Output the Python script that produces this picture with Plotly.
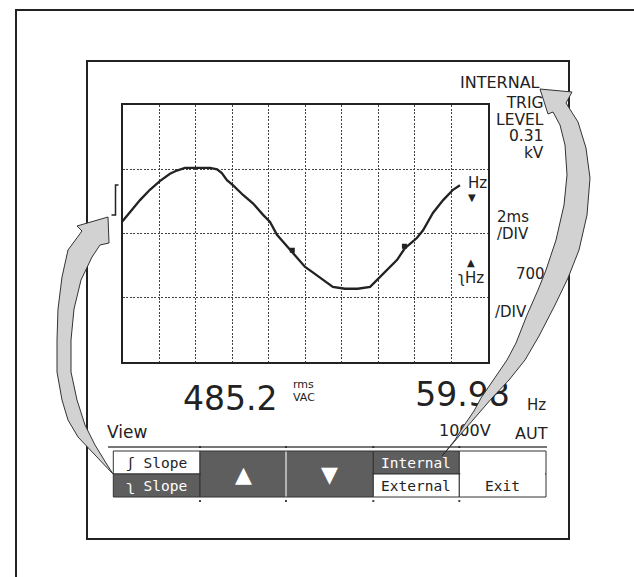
import plotly.graph_objects as go

W, H = 634, 577

# ---------------- data ----------------
# waveform, in grid divisions (x: 0..10, y: 0..4)
wave_x = [0.00, 0.21, 0.48, 0.75, 1.03, 1.30, 1.49, 1.71, 2.04, 2.40, 2.59, 2.72, 2.86,
          3.03, 3.30, 3.57, 3.85, 4.04, 4.23, 4.40, 4.59, 4.78, 5.00, 5.22, 5.49, 5.76,
          6.09, 6.44, 6.78, 6.97, 7.24, 7.52, 7.73, 8.06, 8.23, 8.50, 8.78, 9.05, 9.24]
wave_y = [2.19, 2.33, 2.52, 2.68, 2.82, 2.93, 2.98, 3.02, 3.02, 3.02, 3.00, 2.94, 2.83,
          2.75, 2.60, 2.47, 2.29, 2.18, 1.98, 1.87, 1.76, 1.63, 1.48, 1.39, 1.28, 1.17,
          1.14, 1.14, 1.17, 1.28, 1.43, 1.59, 1.77, 1.93, 2.05, 2.32, 2.52, 2.68, 2.75]
marker_x = [4.65, 7.72]
marker_y = [1.74, 1.80]

reading_main = "485.2"
reading_main_unit = ["rms", "VAC"]
reading_freq = "59.98"
reading_freq_unit = "Hz"
range_label = "1000V"
trig_source = "INTERNAL"
trig_lines = ["TRIG", "LEVEL", "0.31", "kV"]
button_top = ["\u0283 Slope", "", "", "Internal", ""]
button_bottom = ["\u0285 Slope", "", "", "External", "Exit"]

# ---------------- geometry ----------------
GX0, GX1, GY0, GY1 = 122.5, 487.7, 105, 362
LCD = "DejaVu Sans"
MONO = "DejaVu Sans Mono"
DARK = "#5e5e5e"
INK = "#222222"

fig = go.Figure()

# invisible canvas trace so the pixel axes exist
fig.add_trace(go.Scatter(x=[0, W], y=[0, H], mode="markers", marker=dict(opacity=0),
                         hoverinfo="skip", showlegend=False, xaxis="x", yaxis="y"))

# texts that sit under the right arrow (traces are drawn below the arrow shapes)
fig.add_trace(go.Scatter(x=[516, 495, 439], y=[275, 313, 432], mode="text",
                         text=["700", "/DIV", range_label],
                         textposition="middle right",
                         textfont=dict(size=[15, 15, 16], color=INK, family=LCD),
                         hoverinfo="skip", showlegend=False, xaxis="x", yaxis="y",
                         cliponaxis=False))
fig.add_trace(go.Scatter(x=[462.5], y=[398], mode="text", text=[reading_freq],
                         textposition="middle center",
                         textfont=dict(size=33, color=INK, family=LCD),
                         hoverinfo="skip", showlegend=False, xaxis="x", yaxis="y",
                         cliponaxis=False))

# waveform
fig.add_trace(go.Scatter(x=wave_x, y=wave_y, mode="lines",
                         line=dict(color=INK, width=2.3),
                         hoverinfo="skip", showlegend=False, xaxis="x2", yaxis="y2"))
fig.add_trace(go.Scatter(x=marker_x, y=marker_y, mode="markers",
                         marker=dict(symbol="square", size=5, color=INK),
                         hoverinfo="skip", showlegend=False, xaxis="x2", yaxis="y2"))

shapes = []
# outer frame (left + top only)
shapes.append(dict(type="path", xref="x", yref="y", path="M 16 577 L 16 10 L 634 10",
                   line=dict(color=INK, width=2)))
# inner frame
shapes.append(dict(type="rect", xref="x", yref="y", x0=87, y0=61, x1=569, y1=539,
                   line=dict(color=INK, width=2)))
# trigger slope symbol left of grid
shapes.append(dict(type="path", xref="x", yref="y",
                   path="M 111.5 215 L 115.5 215 L 115.5 185 L 118.5 185",
                   line=dict(color=INK, width=1.5)))
# separator above buttons
shapes.append(dict(type="line", xref="x", yref="y", x0=108, x1=547, y0=447, y1=447,
                   line=dict(color="#777777", width=2)))

# buttons
cx = [113.3, 200, 286, 373.3, 459.3, 546]
ry = [451, 474, 497]
fills_top = ["white", DARK, DARK, DARK, "white"]
fills_bot = [DARK, DARK, DARK, "white", "white"]
for i in range(5):
    shapes.append(dict(type="rect", xref="x", yref="y", x0=cx[i], x1=cx[i + 1], y0=ry[0], y1=ry[1],
                       fillcolor=fills_top[i], line=dict(color="#333333", width=1)))
    shapes.append(dict(type="rect", xref="x", yref="y", x0=cx[i], x1=cx[i + 1], y0=ry[1], y1=ry[2],
                       fillcolor=fills_bot[i], line=dict(color="#333333", width=1)))
# merge the arrow buttons and the exit button (hide internal divider)
for i, col in [(1, DARK), (2, DARK), (4, "white")]:
    shapes.append(dict(type="line", xref="x", yref="y", x0=cx[i] + 1, x1=cx[i + 1] - 1,
                       y0=ry[1], y1=ry[1], line=dict(color=col, width=2)))
shapes.append(dict(type="line", xref="x", yref="y", x0=286, x1=286, y0=451.5, y1=496.5,
                   line=dict(color="white", width=1.2)))
# tiny dots under/above button dividers
for xd in cx[1:5]:
    shapes.append(dict(type="rect", xref="x", yref="y", x0=xd - 1, x1=xd + 1, y0=500, y1=502,
                       fillcolor="#444444", line=dict(width=0)))
    shapes.append(dict(type="rect", xref="x", yref="y", x0=xd - 1, x1=xd + 1, y0=446, y1=448,
                       fillcolor="#333333", line=dict(width=0)))


def poly(points):
    return "M " + " L ".join(f"{x} {y}" for x, y in points) + " Z"


# left curved arrow
left_pts = ([(108, 217), (77, 226)] +
            [(82, 231), (68, 250), (62, 277), (58, 309), (57, 340), (57, 372), (62, 400),
             (68, 420), (78, 437), (95, 455), (113, 474)] +
            [(106, 463), (95, 445), (85, 425), (77, 400), (71, 372), (71, 340), (74, 309),
             (81, 280), (92, 257), (100, 245)] +
            [(109, 243)])
shapes.append(dict(type="path", xref="x", yref="y", path=poly(left_pts),
                   fillcolor="#d2d2d2", line=dict(color="#333333", width=1), layer="above"))

# right curved arrow
right_pts = ([(540, 89), (572, 92)] +
             [(566, 103), (578, 122), (586, 148), (590, 178), (587, 215), (579, 250),
              (568, 278), (555, 305), (539, 336), (525, 360), (509, 380), (492, 398),
              (479, 413), (466, 428), (442, 456)] +
             [(455, 440), (463, 427), (474, 411), (481, 398), (494, 379), (507, 360),
              (516, 343), (527, 315), (538, 290), (546, 270), (556, 240), (564, 205),
              (567, 175), (565, 145), (560, 125), (553, 112)] +
             [(548, 114)])
shapes.append(dict(type="path", xref="x", yref="y", path=poly(right_pts),
                   fillcolor="#d2d2d2", line=dict(color="#333333", width=1), layer="above"))

ann = []


def txt(x, y, s, size, anchor="left", color=INK, family=LCD, align="left"):
    ann.append(dict(x=x, y=y, xref="x", yref="y", text=s, showarrow=False,
                    xanchor=anchor, yanchor="middle", align=align,
                    font=dict(size=size, color=color, family=family)))


def stacked(lines, glyph_px):
    return "<br>".join(f"<span style='font-size:{glyph_px}px'>{s}</span>" for s in lines)


# trigger info block
txt(542, 82, trig_source, 16, anchor="right")
txt(546, 127.5, stacked(trig_lines, 15.5), 12.7, anchor="right", align="right")

txt(466, 183, "Hz", 15)
txt(472, 197, "\u25BC", 10, anchor="center")
txt(495, 217, "2ms", 15)
txt(495, 234, "/DIV", 15)
txt(471, 262, "\u25B2", 10, anchor="center")
txt(456, 278, "\u0285Hz", 15)

# readings
txt(229.5, 398, reading_main, 33, anchor="center")
txt(291, 384, reading_main_unit[0], 11)
txt(291, 397, reading_main_unit[1], 11)
txt(525, 405, reading_freq_unit, 15)
txt(105, 432, "View", 17)
txt(513, 433, "AUT", 16)

# button labels
for i in range(5):
    xc = (cx[i] + cx[i + 1]) / 2
    if button_top[i]:
        col = "white" if fills_top[i] == DARK else INK
        txt(xc, (ry[0] + ry[1]) / 2, button_top[i], 14.5, anchor="center", color=col, family=MONO)
    if button_bottom[i]:
        col = "white" if fills_bot[i] == DARK else INK
        txt(xc, (ry[1] + ry[2]) / 2, button_bottom[i], 14.5, anchor="center", color=col, family=MONO)
txt((cx[1] + cx[2]) / 2, 474, "\u25B2", 22, anchor="center", color="white")
txt((cx[2] + cx[3]) / 2, 474, "\u25BC", 22, anchor="center", color="white")

fig.update_layout(
    width=W, height=H, margin=dict(l=0, r=0, t=0, b=0),
    paper_bgcolor="white", plot_bgcolor="rgba(0,0,0,0)",
    showlegend=False, hovermode=False,
    xaxis=dict(range=[0, W], domain=[0, 1], visible=False, fixedrange=True),
    yaxis=dict(range=[H, 0], domain=[0, 1], visible=False, fixedrange=True),
    xaxis2=dict(range=[0, 10], domain=[GX0 / W, GX1 / W], anchor="y2", dtick=1,
                showgrid=True, gridcolor="#444444", gridwidth=1, griddash="2px,1.5px",
                showline=True, mirror=True, linecolor=INK, linewidth=2, fixedrange=True,
                zeroline=False, showticklabels=False, ticks=""),
    yaxis2=dict(range=[0, 4], domain=[1 - GY1 / H, 1 - GY0 / H], anchor="x2", dtick=1,
                showgrid=True, gridcolor="#444444", gridwidth=1, griddash="2px,1.5px",
                showline=True, mirror=True, linecolor=INK, linewidth=2, fixedrange=True,
                zeroline=False, showticklabels=False, ticks=""),
    shapes=shapes, annotations=ann,
)

fig.write_html("out.html", config={"displayModeBar": False, "staticPlot": True},
               post_script="document.body.style.margin='0';")
